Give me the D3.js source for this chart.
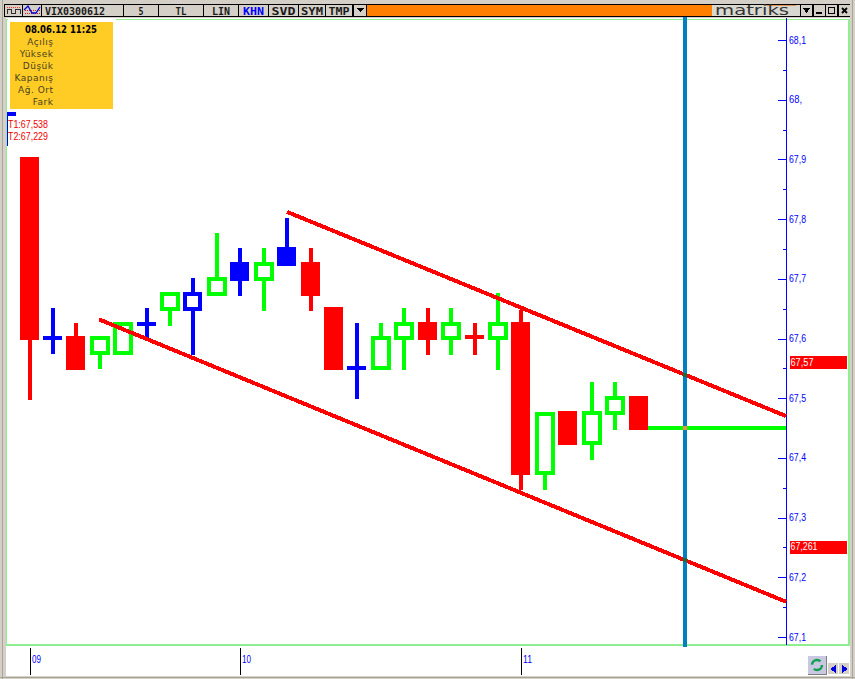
<!DOCTYPE html>
<html><head><meta charset="utf-8">
<style>html,body{margin:0;padding:0;background:#d4d0c8}svg{display:block}</style>
<script src="https://cdn.jsdelivr.net/npm/d3@7"></script></head><body>
<script>
// Chart data
const symbol = "VIX0300612";
const toolbarLabels = ["5","TL","LIN","KHN","SVD","SYM","TMP"];
const legendTitle = "08.06.12 11:25";
const legendLabels = ["Açılış","Yüksek","Düşük","Kapanış","Ağ. Ort","Fark"];
const trendLabels = ["T1:67,538","T2:67,229"];
const timeTickIndex = [0,9,21];
const timeTickLabels = ["09","10","11"];
const priceTicks = [68.1,68.0,67.9,67.8,67.7,67.6,67.5,67.4,67.3,67.2,67.1];
const priceTickLabels = ["68,1","68,","67,9","67,8","67,7","67,6","67,5","67,4","67,3","67,2","67,1"];
const minorTicks = [68.05,67.95,67.85,67.75,67.65,67.55,67.45,67.35,67.25,67.15];
// candle series: colour code, top of body, bottom of body, high, low
const candleColor = ["r","c","r","g","g","c","g","b","g","B","g","B","r","r","c","g","g","r","g","x","g","r","g","r","g","g","r"];
const bodyTop = [67.904,67.601,67.604,67.604,67.628,67.624,67.678,67.678,67.703,67.728,67.728,67.753,67.728,67.653,67.551,67.604,67.628,67.628,67.628,67.602,67.628,67.628,67.477,67.479,67.479,67.503,67.504];
const bodyBot = [67.597,67.601,67.547,67.572,67.572,67.624,67.646,67.646,67.671,67.696,67.696,67.721,67.671,67.547,67.551,67.547,67.597,67.597,67.597,67.602,67.597,67.371,67.371,67.422,67.422,67.472,67.447];
const high = [67.904,67.651,67.626,67.604,67.628,67.651,67.678,67.701,67.777,67.752,67.752,67.802,67.752,67.653,67.626,67.626,67.651,67.651,67.651,67.626,67.676,67.648,67.477,67.479,67.527,67.527,67.504];
const low = [67.497,67.574,67.547,67.549,67.572,67.599,67.621,67.572,67.671,67.671,67.646,67.721,67.646,67.547,67.499,67.547,67.547,67.572,67.572,67.572,67.547,67.346,67.346,67.422,67.396,67.447,67.447];
const flatLevel = 67.45, flatFrom = 26.0, flatTo = 32.3;
const channelUpper = [[11,67.812],[32.3,67.47]];
const channelLower = [[2.97,67.632],[32.3,67.159]];
const cursorIndex = 27.99;
const priceTagValues = [67.57,67.261];
const priceTagLabels = ["67,57","67,261"];

const W=855,H=679;
const svg=d3.select("body").append("svg").attr("width",W).attr("height",H).attr("shape-rendering","crispEdges");
const face="#d4d0c8";
const y=d3.scaleLinear().domain([68.1,67.1]).range([40,637]);
const x=d3.scaleLinear().domain([0,26]).range([29.5,638.5]);
const col={r:"#ff0000",g:"#00ff00",b:"#0000ff",B:"#0000ff",c:"#0000ff",x:"#ff0000"};
const ui="'DejaVu Sans',sans-serif", mono="'DejaVu Sans Mono',monospace", sm="'Liberation Sans',sans-serif";

// window + frame
svg.append("rect").attr("width",W).attr("height",H).attr("fill",face);
svg.append("rect").attr("x",2).attr("y",0).attr("width",1).attr("height",H).attr("fill","#a8a498");
svg.append("rect").attr("x",852).attr("y",0).attr("width",1).attr("height",H).attr("fill","#a8a498");
svg.append("rect").attr("x",6).attr("y",18).attr("width",844).attr("height",658).attr("fill","#fff");
svg.append("rect").attr("x",0).attr("y",677).attr("width",W).attr("height",1).attr("fill","#a8a498");
svg.append("rect").attr("x",6.5).attr("y",19.5).attr("width",842).attr("height",625).attr("fill","none").attr("stroke","#90ee90");
svg.append("rect").attr("x",6).attr("y",644).attr("width",843).attr("height",2).attr("fill","#90ee90");
svg.append("rect").attr("x",848).attr("y",19).attr("width",2).attr("height",627).attr("fill","#90ee90");
svg.append("rect").attr("x",8).attr("y",18).attr("width",108).attr("height",4).attr("fill","#fff");

// toolbar
svg.append("rect").attr("x",4).attr("y",4).attr("width",846).attr("height",13).attr("fill","#000");
const tbX=[42,124,159,204,239,269,299,326],tbEnd=[123,158,203,238,268,298,325,352];
const tbLen=[60,5,11,18,21,24,22,21];
const tb=[symbol,...toolbarLabels];
svg.append("rect").attr("x",5).attr("y",5).attr("width",17).attr("height",11).attr("fill",face);
svg.append("rect").attr("x",23).attr("y",5).attr("width",18).attr("height",11).attr("fill",face);
svg.append("path").attr("fill","none").attr("stroke","#ff3030").attr("stroke-dasharray","1 1").attr("d","M7 7.5H20");
svg.append("path").attr("fill","none").attr("stroke","#303030").attr("d","M7 13.5V9.5H11V13.5H15V9.5H20V13.5");
svg.append("path").attr("fill","none").attr("stroke","#e02020").attr("stroke-dasharray","1 1").attr("d","M25 13.5H40M25 10.5H40");
svg.append("path").attr("shape-rendering","auto").attr("fill","none").attr("stroke","#0000d0").attr("stroke-width",1.3).attr("d","M24 10L28 6L32 13L36 13L40 7");
tb.forEach((t,i)=>{
  svg.append("rect").attr("x",tbX[i]).attr("y",5).attr("width",tbEnd[i]-tbX[i]).attr("height",11).attr("fill",face);
  const tx=i==0?45:(tbX[i]+tbEnd[i])/2;
  svg.append("text").attr("x",tx).attr("y",14.5).attr("text-anchor",i==0?"start":"middle")
   .attr("font-family",mono).attr("font-weight","bold").attr("font-size",10.5)
   .attr("textLength",tbLen[i]).attr("lengthAdjust","spacingAndGlyphs")
   .attr("fill",t=="KHN"?"#0000ff":"#1a1a1a").text(t);
});
svg.append("rect").attr("x",354).attr("y",5).attr("width",12).attr("height",11).attr("fill",face);
svg.append("path").attr("d","M356 8H364L360 12Z").attr("fill","#000");
svg.append("rect").attr("x",367).attr("y",5).attr("width",345).attr("height",11).attr("fill","#ff8000");
svg.append("rect").attr("x",712).attr("y",5).attr("width",88).attr("height",11).attr("fill","#d8d8d0");
svg.append("rect").attr("x",766).attr("y",5).attr("width",30).attr("height",1).attr("fill","#e09050");
svg.append("text").attr("x",715).attr("y",15).attr("font-family",ui).attr("font-size",14).attr("textLength",74).attr("lengthAdjust","spacingAndGlyphs").attr("fill","#333").text("matriks");
[[801,"t"],[814,"m"],[826,"o"],[839,"x"]].forEach(([bx,k])=>{
  svg.append("rect").attr("x",bx).attr("y",5).attr("width",11).attr("height",11).attr("fill",face);
  const g=svg.append("path").attr("fill","#000").attr("stroke","#000");
  if(k=="t")g.attr("d",`M${bx+2} 8H${bx+9}L${bx+5.5} 12Z`);
  if(k=="m")g.attr("stroke-width",2).attr("d",`M${bx+2} 13H${bx+8}`);
  if(k=="o")g.attr("fill","none").attr("stroke-width",1.5).attr("d",`M${bx+2.5} 7.5H${bx+8.5}V13.5H${bx+2.5}Z`);
  if(k=="x")g.attr("shape-rendering","auto").attr("stroke-width",1.8).attr("d",`M${bx+3} 8L${bx+8} 13M${bx+8} 8L${bx+3} 13`);
});

// legend box
svg.append("rect").attr("x",10).attr("y",22).attr("width",103).attr("height",87).attr("fill","#ffcc26");
svg.append("text").attr("x",25).attr("y",33).attr("font-family",ui).attr("font-weight","bold").attr("font-size",10).attr("textLength",72).attr("lengthAdjust","spacingAndGlyphs").attr("fill","#000").text(legendTitle);
legendLabels.forEach((t,i)=>svg.append("text").attr("x",53.5).attr("y",45+i*12).attr("text-anchor","end").attr("font-family",ui).attr("letter-spacing",0.5).attr("font-size",9).attr("fill","#4a4020").text(t));

// marker + T1 / T2
svg.append("rect").attr("x",7).attr("y",112).attr("width",1).attr("height",34).attr("fill","#0000ff");
svg.append("rect").attr("x",7).attr("y",112).attr("width",9).attr("height",4).attr("fill","#0000ff");
trendLabels.forEach((t,i)=>svg.append("text").attr("x",8).attr("y",128+i*12).attr("font-family",sm).attr("font-size",10).attr("textLength",40).attr("lengthAdjust","spacingAndGlyphs").attr("fill","#f00000").text(t));

// price axis
const axis=d3.axisLeft(y).tickValues(priceTicks).tickSize(8).tickFormat("");
const ag=svg.append("g").attr("transform","translate(786,0)").call(axis);
ag.selectAll("line,path").attr("stroke","#0000ff");
ag.select(".domain").attr("d",`M0.5 18V645`);
ag.selectAll("text").remove();
const ag2=svg.append("g").attr("transform","translate(786,0)").call(d3.axisLeft(y).tickValues(minorTicks).tickSize(3).tickFormat(""));
ag2.selectAll("line").attr("stroke","#0000ff"); ag2.select(".domain").remove();
priceTicks.forEach((v,i)=>svg.append("text").attr("x",789).attr("y",y(v)+3.5).attr("font-family",sm).attr("font-size",11)
  .attr("textLength",priceTickLabels[i].length==3?13:17).attr("lengthAdjust","spacingAndGlyphs").attr("fill","#0000ff").text(priceTickLabels[i]));

// price tags
priceTagValues.forEach((v,i)=>{
  svg.append("rect").attr("x",790).attr("y",Math.round(y(v))).attr("width",57).attr("height",13).attr("fill","#ff0000");
  svg.append("text").attr("x",790.5).attr("y",y(v)+9.5).attr("font-family",sm).attr("font-size",11)
   .attr("textLength",priceTagLabels[i].length==5?23:27).attr("lengthAdjust","spacingAndGlyphs").attr("fill","#fff").text(priceTagLabels[i]);
});

// candles
const g=svg.append("g");
candleColor.forEach((c,i)=>{
  const cx=Math.round(x(i)), left=Math.floor(x(i)-9.5), cc=col[c];
  g.append("rect").attr("x",cx-2).attr("y",y(high[i])).attr("width",4).attr("height",y(low[i])-y(high[i])).attr("fill",cc);
  const t=Math.round(y(bodyTop[i])),b=Math.round(y(bodyBot[i]));
  if(c=="c"||c=="x"){ g.append("rect").attr("x",left).attr("y",t-2).attr("width",19).attr("height",4).attr("fill",cc); }
  else if(c=="r"||c=="B"){ g.append("rect").attr("x",left).attr("y",t).attr("width",19).attr("height",b-t).attr("fill",cc); }
  else { const w=c=="g"?20:19;
    g.append("rect").attr("x",left).attr("y",t).attr("width",w).attr("height",b-t).attr("fill",cc);
    g.append("rect").attr("x",left+4).attr("y",t+4).attr("width",w-8).attr("height",b-t-8).attr("fill","#fff"); }
});
g.append("rect").attr("x",x(flatFrom)+9.5).attr("y",Math.round(y(flatLevel))-2).attr("width",x(flatTo)-x(flatFrom)-9.5).attr("height",4).attr("fill","#00ff00");

// channel
const ln=d3.line().x(d=>x(d[0])).y(d=>y(d[1]));
[channelUpper,channelLower].forEach(d=>svg.append("path").attr("d",ln(d)).attr("fill","none").attr("stroke","#ff0000").attr("stroke-width",4));

// cursor
const curX=Math.round(x(cursorIndex));
svg.append("rect").attr("x",curX-2).attr("y",17).attr("width",4).attr("height",630).attr("fill","#0080c0");
// crossing pixels on the cursor
const at=(l)=>l[0][1]+(cursorIndex-l[0][0])*(l[1][1]-l[0][1])/(l[1][0]-l[0][0]);
[[at(channelUpper),"#107040"],[at(channelLower),"#107040"],[flatLevel,"#f09050"]].forEach(([v,c])=>
  svg.append("rect").attr("x",curX-2).attr("y",Math.round(y(v))-2).attr("width",4).attr("height",4).attr("fill",c));

// time axis
timeTickIndex.forEach((k,i)=>{
  const px=Math.round(x(k));
  svg.append("rect").attr("x",px).attr("y",648).attr("width",1).attr("height",27).attr("fill","#000");
  svg.append("text").attr("x",px+2).attr("y",663).attr("font-family",sm).attr("font-size",11).attr("textLength",9).attr("lengthAdjust","spacingAndGlyphs").attr("fill","#0000ff").text(timeTickLabels[i]);
});

// refresh + arrows
svg.append("rect").attr("x",808).attr("y",656).attr("width",18).attr("height",18).attr("fill","#c8c8e0");
svg.append("path").attr("d","M826.5 656V674.5H808").attr("fill","none").attr("stroke","#808080");
svg.append("circle").attr("cx",817).attr("cy",665).attr("r",5).attr("fill","none").attr("stroke","#10a050").attr("stroke-width",2.5).attr("stroke-dasharray","11 4.7").attr("shape-rendering","auto");
[[828,"M836 665L830 669L836 673Z"],[839,"M842 665L848 669L842 673Z"]].forEach(([bx,d])=>{
  svg.append("rect").attr("x",bx).attr("y",663).attr("width",10).attr("height",11).attr("fill",face);
  svg.append("path").attr("d",d).attr("fill","#0000e0");
});
</script></body></html>
